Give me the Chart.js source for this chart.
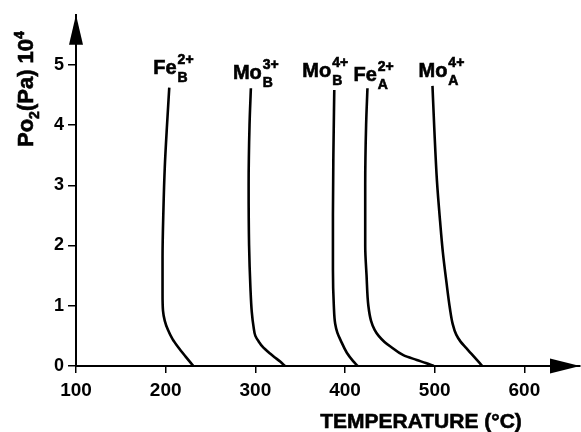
<!DOCTYPE HTML>
<html>
<head>
  <script src="https://cdn.jsdelivr.net/npm/chart.js"></script>
  <style>
    body { margin: 0; background: #fff; }
  </style>
</head>
<body>
  <canvas id="po2Chart" width="581" height="432"></canvas>

  <script>
    // Oxygen partial pressure vs temperature for each cation (A and B sites)
    var feB_temp = [204, 201.5, 199, 197.5, 196.5, 196.5, 197, 199, 202.5, 207.5, 214, 222, 231];
    var feB_po2  = [4.62, 4.0, 3.3, 2.6, 1.8, 1.2, 0.92, 0.75, 0.6, 0.45, 0.31, 0.16, 0];

    var mo3B_temp = [295, 293.5, 292.5, 293, 294.5, 296, 298, 300, 304, 308, 316, 321, 328, 333];
    var mo3B_po2  = [4.61, 4.0, 3.0, 2.0, 1.3, 0.9, 0.65, 0.5, 0.4, 0.32, 0.21, 0.15, 0.07, 0];

    var mo4B_temp = [388, 387, 386.5, 386.5, 387.5, 389, 391.5, 395, 402, 409, 414];
    var mo4B_po2  = [4.58, 3.5, 2.5, 1.6, 1.0, 0.7, 0.55, 0.43, 0.22, 0.08, 0];

    var feA_temp = [425, 423.5, 422.5, 422.5, 424, 426, 429, 433, 437.5, 444, 451, 465, 480, 490, 499];
    var feA_po2  = [4.61, 4.0, 3.0, 2.0, 1.5, 1.0, 0.75, 0.6, 0.5, 0.4, 0.32, 0.18, 0.1, 0.05, 0];

    var mo4A_temp = [497.5, 499.5, 502.5, 506, 509, 513, 517, 520, 524, 529, 535, 541, 547, 553];
    var mo4A_po2  = [4.65, 3.95, 3.07, 2.4, 1.9, 1.4, 0.95, 0.7, 0.52, 0.4, 0.3, 0.2, 0.1, 0];

    // curve labels: element, charge (superscript), site (subscript)
    var ionNames   = ['Fe', 'Mo', 'Mo', 'Fe', 'Mo'];
    var ionCharges = ['2+', '3+', '4+', '2+', '4+'];
    var ionSites   = ['B', 'B', 'B', 'A', 'A'];

    var xTicks = [100, 200, 300, 400, 500, 600];
    var yTicks = [0, 1, 2, 3, 4, 5];

    var allTemps = [feB_temp, mo3B_temp, mo4B_temp, feA_temp, mo4A_temp];
    var allPo2   = [feB_po2, mo3B_po2, mo4B_po2, feA_po2, mo4A_po2];

    // label placement relative to the top of each curve (pixels)
    var labelOffsets = [[-16, -14], [-18, -9], [-32, -13], [-14, -7], [-14, -9]];

    var FONT = '"Liberation Sans", Arial, sans-serif';

    var datasets = allTemps.map(function (temps, i) {
      return {
        label: ionNames[i] + ionCharges[i] + ionSites[i],
        data: temps.map(function (t, j) { return { x: t, y: allPo2[i][j] }; }),
        showLine: true,
        borderColor: '#000',
        borderWidth: 2.6,
        pointRadius: 0,
        // pressure falls steadily along each curve, so interpolate along y
        indexAxis: 'y',
        cubicInterpolationMode: 'monotone',
        fill: false
      };
    });

    // filled text with a thin outline so it reads as heavy type
    function heavyText(ctx, t, x, y) {
      ctx.fillText(t, x, y);
      ctx.strokeText(t, x, y);
    }

    // draws a run of text pieces with their own font and baseline shift
    function drawRuns(ctx, x, y, runs) {
      runs.forEach(function (r) {
        ctx.font = r.font;
        heavyText(ctx, r.t, x, y + (r.dy || 0));
        x += ctx.measureText(r.t).width + (r.gap || 0);
      });
    }

    var decorations = {
      id: 'decorations',
      afterDraw: function (chart) {
        var ctx = chart.ctx;
        var area = chart.chartArea;
        ctx.save();
        ctx.fillStyle = '#000';
        ctx.strokeStyle = '#000';
        ctx.lineWidth = 0.6;

        // arrow heads on both axes
        ctx.beginPath();
        ctx.moveTo(area.left, area.top);
        ctx.lineTo(area.left - 7, area.top + 30);
        ctx.lineTo(area.left + 7, area.top + 30);
        ctx.closePath();
        ctx.fill();

        ctx.beginPath();
        ctx.moveTo(area.right, area.bottom);
        ctx.lineTo(area.right - 30, area.bottom - 7.5);
        ctx.lineTo(area.right - 30, area.bottom + 7.5);
        ctx.closePath();
        ctx.fill();

        // curve labels
        ctx.textAlign = 'left';
        ctx.textBaseline = 'alphabetic';
        chart.data.datasets.forEach(function (ds, i) {
          var meta = chart.getDatasetMeta(i);
          var top = meta.data[0];
          var x = top.x + labelOffsets[i][0];
          var y = top.y + labelOffsets[i][1];
          ctx.font = 'bold 20px ' + FONT;
          heavyText(ctx, ionNames[i], x, y);
          var w = ctx.measureText(ionNames[i]).width + 1;
          ctx.font = 'bold 14px ' + FONT;
          heavyText(ctx, ionCharges[i], x + w, y - 10);
          heavyText(ctx, ionSites[i], x + w, y + 8);
        });

        // x axis title
        ctx.font = 'bold 21px ' + FONT;
        ctx.textAlign = 'center';
        heavyText(ctx, 'TEMPERATURE (°C)', 421, 428);

        // y axis title, rotated
        ctx.translate(33, 147);
        ctx.rotate(-Math.PI / 2);
        ctx.textAlign = 'left';
        drawRuns(ctx, 0, 0, [
          { t: 'Po', font: 'bold 22px ' + FONT },
          { t: '2', font: 'bold 14px ' + FONT, dy: 6 },
          { t: '(Pa) 10', font: 'bold 22px ' + FONT },
          { t: '4', font: 'bold 14px ' + FONT, dy: -9 }
        ]);
        ctx.restore();
      }
    };

    var ctx = document.getElementById('po2Chart').getContext('2d');
    var chart = new Chart(ctx, {
      type: 'scatter',
      data: { datasets: datasets },
      plugins: [decorations],
      options: {
        responsive: false,
        animation: false,
        layout: { padding: { top: 13, right: 1, left: 0, bottom: 0 } },
        plugins: {
          legend: { display: false },
          tooltip: { enabled: false }
        },
        scales: {
          x: {
            type: 'linear',
            min: 100,
            max: 662,
            afterBuildTicks: function (scale) {
              scale.ticks = xTicks.map(function (v) { return { value: v }; });
            },
            afterFit: function (scale) { scale.height = 66; },
            border: { display: true, color: '#000', width: 2 },
            grid: { drawOnChartArea: false, drawTicks: true, tickLength: 7, color: '#000', lineWidth: 1.5 },
            ticks: {
              color: '#000',
              padding: 6,
              maxRotation: 0,
              font: { family: FONT, size: 19, weight: 'bold' }
            }
          },
          y: {
            type: 'linear',
            min: 0,
            max: 5.83,
            afterBuildTicks: function (scale) {
              scale.ticks = yTicks.map(function (v) { return { value: v }; });
            },
            afterFit: function (scale) { scale.width = 76; },
            border: { display: true, color: '#000', width: 2 },
            grid: { drawOnChartArea: false, drawTicks: true, tickLength: 8, color: '#000', lineWidth: 1.5 },
            ticks: {
              color: '#000',
              padding: 4,
              font: { family: FONT, size: 18, weight: 'bold' }
            }
          }
        }
      }
    });
  </script>
</body>
</html>
